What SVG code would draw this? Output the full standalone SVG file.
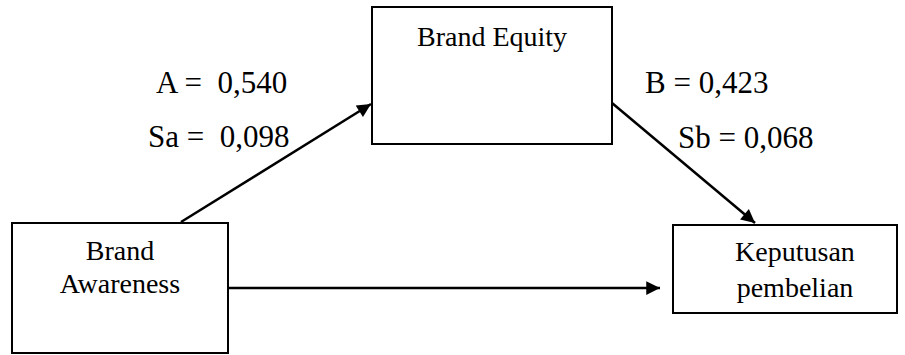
<svg xmlns="http://www.w3.org/2000/svg" width="905" height="355" viewBox="0 0 905 355">
<style>
.box{fill:#fff;stroke:#000;stroke-width:2}
text{font-family:"Liberation Serif","Times New Roman",serif;font-size:28px;fill:#000}
.c{text-anchor:middle}
.lb{font-size:31px}
.ln{stroke:#000;stroke-width:2.5;fill:none;marker-end:url(#ah)}
</style>
<defs>
<marker id="ah" viewBox="0 0 10 10" refX="10" refY="5" markerWidth="7" markerHeight="5.5" markerUnits="strokeWidth" orient="auto">
<path d="M0,0 L10,5 L0,10 z" fill="#000"/>
</marker>
</defs>
<g id="connectors">
<line class="ln" x1="181" y1="222" x2="371" y2="104"/>
<line class="ln" x1="612" y1="103" x2="755" y2="223"/>
<line class="ln" x1="229" y1="288" x2="660" y2="288"/>
</g>
<g id="brand-awareness">
<rect class="box" x="12" y="223" width="216" height="130"/>
<text class="c" x="120" y="260">Brand</text>
<text class="c" x="120" y="293">Awareness</text>
</g>
<g id="brand-equity">
<rect class="box" x="372" y="7" width="240" height="137"/>
<text class="c" x="492" y="46">Brand Equity</text>
</g>
<g id="keputusan-pembelian">
<rect class="box" x="673" y="225" width="224" height="88"/>
<text class="c" x="795" y="261">Keputusan</text>
<text class="c" x="795" y="297">pembelian</text>
</g>
<g id="labels">
<text class="lb" x="156" y="93" xml:space="preserve">A =  0,540</text>
<text class="lb" x="148" y="147" xml:space="preserve">Sa =  0,098</text>
<text class="lb" x="645" y="93">B = 0,423</text>
<text class="lb" x="678" y="148">Sb = 0,068</text>
</g>
</svg>
